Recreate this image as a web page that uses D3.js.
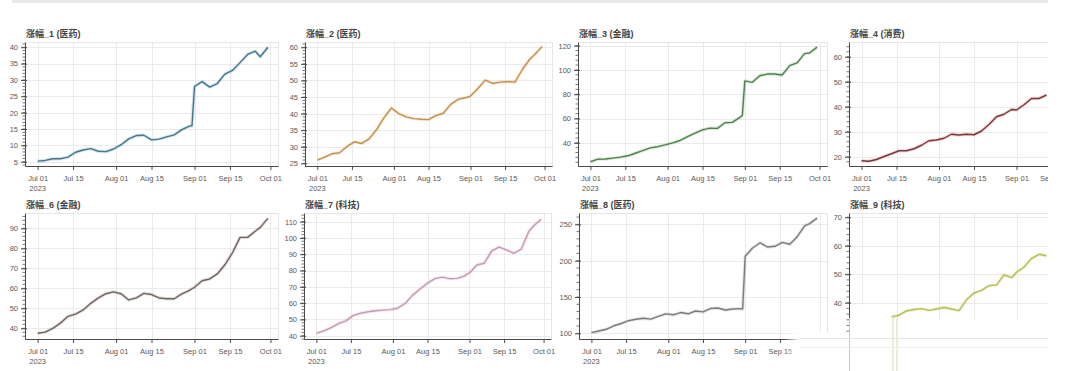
<!DOCTYPE html>
<html>
<head>
<meta charset="utf-8">
<script src="https://cdn.jsdelivr.net/npm/d3@7"></script>
<style>
	body { margin: 0; background: #fff; }
	svg { display: block; }
</style>
</head>
<body>
<div id="chart"></div>
<script>
	// sample dates (every ~3 days, plus the day before Sep 01 for the jumps)
	const dates = ["2023-07-01", "2023-07-04", "2023-07-07", "2023-07-10", "2023-07-13", "2023-07-16",
		"2023-07-19", "2023-07-22", "2023-07-25", "2023-07-28", "2023-07-31", "2023-08-03", "2023-08-06",
		"2023-08-09", "2023-08-12", "2023-08-15", "2023-08-18", "2023-08-21", "2023-08-24", "2023-08-27",
		"2023-08-30", "2023-08-31", "2023-09-01", "2023-09-04", "2023-09-07", "2023-09-10", "2023-09-13",
		"2023-09-16", "2023-09-19", "2023-09-22", "2023-09-25", "2023-09-27", "2023-09-30"];

	const titles = ["涨幅_1 (医药)", "涨幅_2 (医药)", "涨幅_3 (金融)", "涨幅_4 (消费)",
		"涨幅_6 (金融)", "涨幅_7 (科技)", "涨幅_8 (医药)", "涨幅_9 (科技)"];

	const s1 = [5.2, 5.4, 5.9, 5.9, 6.4, 7.9, 8.6, 9.0, 8.2, 8.1, 8.9, 10.2, 12.0, 13.0, 13.1, 11.7, 11.9,
		12.6, 13.2, 14.8, 15.9, 16.0, 28.0, 29.5, 27.8, 28.9, 31.8, 32.9, 35.3, 37.8, 38.8, 37.1, 40.0];
	const s2 = [26.0, 26.9, 27.9, 28.2, 30.1, 31.5, 31.0, 32.4, 35.2, 38.8, 41.7, 40.0, 39.0, 38.5, 38.3, 38.2,
		39.4, 40.1, 42.8, 44.3, 44.8, 45.0, 45.3, 47.6, 50.1, 49.1, 49.5, 49.6, 49.5, 53.3, 56.4, 57.8, 60.2];
	const s3 = [24.4, 26.5, 26.7, 27.4, 28.2, 29.3, 31.4, 33.5, 35.8, 36.8, 38.3, 40.0, 41.9, 45.0, 47.9, 50.6,
		52.1, 51.9, 56.5, 56.8, 60.9, 62.5, 91.0, 89.8, 95.2, 96.6, 96.6, 95.8, 103.5, 105.8, 113.4, 113.9, 118.8];
	// 涨幅_4 runs off the right edge of the picture after mid-September
	const s4 = [18.4, 18.2, 18.9, 20.1, 21.2, 22.4, 22.4, 23.2, 24.6, 26.4, 26.7, 27.4, 29.0, 28.7, 29.0, 28.8,
		30.3, 32.9, 36.0, 37.0, 38.9, 38.8, 38.7, 40.8, 43.3, 43.3, 44.7];
	const s6 = [37.5, 38.1, 40.0, 42.6, 46.0, 47.1, 49.2, 52.5, 55.2, 57.3, 58.2, 57.3, 54.2, 55.2, 57.5, 56.9,
		55.2, 54.8, 54.8, 57.2, 59.0, 59.8, 60.5, 63.8, 64.7, 67.2, 71.8, 77.8, 85.5, 85.5, 88.6, 90.5, 95.0];
	const s7 = [41.4, 43.0, 45.0, 47.5, 49.1, 52.5, 53.9, 54.7, 55.3, 55.7, 56.0, 57.0, 59.9, 64.9, 68.7, 72.3,
		75.0, 76.0, 75.0, 75.2, 76.6, 77.8, 78.5, 83.4, 84.5, 92.0, 94.4, 92.7, 90.6, 93.2, 104.0, 107.5, 111.4];
	const s8 = [100.9, 103.2, 105.6, 110.4, 113.5, 117.4, 119.3, 120.8, 119.5, 123.4, 126.8, 125.5, 128.6, 126.9,
		130.7, 129.6, 134.1, 134.8, 132.1, 133.5, 134.0, 133.5, 206.0, 217.5, 224.6, 218.8, 219.8, 225.2, 222.6,
		233.0, 248.0, 251.0, 258.5];
	// 涨幅_9: early July is hidden in the picture
	const s9 = [null, null, null, null, 35.0, 35.6, 37.1, 37.6, 37.9, 37.3, 37.8, 38.3, 37.8, 37.2, 41.0, 43.4,
		44.3, 46.0, 46.2, 49.8, 48.8, 49.7, 50.7, 52.5, 55.5, 57.0, 56.5];

	const xTicks = ["2023-07-01", "2023-07-15", "2023-08-01", "2023-08-15", "2023-09-01", "2023-09-15", "2023-10-01"];
	const xTickLabels = ["Jul 01", "Jul 15", "Aug 01", "Aug 15", "Sep 01", "Sep 15", "Oct 01"];
	const yTicks = [
		[5, 10, 15, 20, 25, 30, 35, 40],
		[25, 30, 35, 40, 45, 50, 55, 60],
		[40, 60, 80, 100, 120],
		[20, 30, 40, 50, 60],
		[40, 50, 60, 70, 80, 90],
		[40, 50, 60, 70, 80, 90, 100, 110],
		[100, 150, 200, 250],
		[40, 50, 60, 70]
	];

	// ---- layout ----
	var width = 1080, height = 371;
	const cutX = 1048; // screenshot ends here
	const series = [s1, s2, s3, s4, s6, s7, s8, s9];
	const frames = [
		{ l: 25, r: 278, t: 42, b: 166 }, { l: 305, r: 552, t: 42, b: 166 },
		{ l: 578, r: 827, t: 42, b: 166 }, { l: 849, r: 1099, t: 42, b: 166 },
		{ l: 25, r: 278, t: 213, b: 339 }, { l: 304, r: 551, t: 213, b: 339 },
		{ l: 579, r: 827, t: 213, b: 339 }, { l: 849, r: 1099, t: 213, b: 339 }
	];
	const yDomains = [[3.7, 41.6], [24.2, 61.6], [20.9, 123.0], [16.3, 65.9],
		[34.65, 97.7], [38.0, 115.3], [92.2, 265.6], [27.25, 71.5]];
	const lineColors = ["#45778c", "#bb9352", "#527f4d", "#74393f", "#6d6560", "#c29caf", "#7b7b7b", "#b6bd55"];
	const haloColors = ["#1f77b4", "#ff7f0e", "#2ca02c", "#d62728", "#8c564b", "#e377c2", "#7f7f7f", "#bcbd22"];
	const font = "'Liberation Sans', Arial, 'Noto Sans CJK SC', sans-serif";

	const parseDate = d3.timeParse("%Y-%m-%d");
	const xDomain = [parseDate("2023-06-26"), parseDate("2023-10-04")];
	const tickDates = xTicks.map(parseDate);
	const sampleDates = dates.map(parseDate);

	var svg = d3.select("#chart").append("svg")
		.attr("width", width).attr("height", height)
		.style("font-family", font);

	// thin grey bar along the top of the screenshot
	svg.append("rect").attr("x", 12).attr("y", 0).attr("width", cutX - 12).attr("height", 3).attr("fill", "#e9e9e9");

	frames.forEach((f, i) => {
		const x = d3.scaleTime().domain(xDomain).range([f.l, f.r]);
		const y = d3.scaleLinear().domain(yDomains[i]).range([f.b, f.t]);
		const g = svg.append("g");
		// only ticks whose label still starts inside the picture
		const shownTicks = tickDates.filter(d => x(d) - 10 < cutX);

		// grid
		g.selectAll(".hgrid").data(yTicks[i]).join("line")
			.attr("x1", f.l).attr("x2", f.r)
			.attr("y1", d => Math.round(y(d)) + 0.5).attr("y2", d => Math.round(y(d)) + 0.5)
			.attr("stroke", "#ebebeb");
		g.selectAll(".vgrid").data(shownTicks).join("line")
			.attr("x1", d => Math.round(x(d)) + 0.5).attr("x2", d => Math.round(x(d)) + 0.5)
			.attr("y1", f.t).attr("y2", f.b)
			.attr("stroke", "#ebebeb");
		g.append("rect")
			.attr("x", f.l + 0.5).attr("y", f.t + 0.5)
			.attr("width", f.r - f.l).attr("height", f.b - f.t)
			.attr("fill", "none").attr("stroke", "#e6e6e6");

		// series line: soft coloured halo + darker core
		const pts = series[i].map((v, k) => ({ date: sampleDates[k], v: v }));
		const line = d3.line()
			.defined(d => d.v != null)
			.x(d => x(d.date))
			.y(d => y(d.v));
		g.append("path").datum(pts).attr("d", line)
			.attr("fill", "none").attr("stroke", haloColors[i]).attr("stroke-opacity", 0.18)
			.attr("stroke-width", 3.4).attr("stroke-linejoin", "round");
		g.append("path").datum(pts).attr("d", line)
			.attr("fill", "none").attr("stroke", lineColors[i])
			.attr("stroke-width", 1.4).attr("stroke-linejoin", "round");

		// minor y ticks (5 per major interval)
		const minorStep = (yTicks[i][1] - yTicks[i][0]) / 5;
		const minors = [];
		for (let k = Math.ceil(yDomains[i][0] / minorStep); k * minorStep <= yDomains[i][1]; k++) minors.push(k * minorStep);
		g.selectAll(".minor").data(minors).join("line")
			.attr("x1", f.l - 2.5).attr("x2", f.l)
			.attr("y1", d => y(d)).attr("y2", d => y(d))
			.attr("stroke", "#555").attr("stroke-width", 0.8);

		// axes
		const yAxis = g.append("g").attr("transform", `translate(${f.l},0)`)
			.call(d3.axisLeft(y).tickValues(yTicks[i]).tickSizeInner(4).tickSizeOuter(0).tickPadding(3));
		const xAxis = g.append("g").attr("transform", `translate(0,${f.b})`)
			.call(d3.axisBottom(x).tickValues(shownTicks).tickFormat(d => xTickLabels[tickDates.indexOf(d)])
				.tickSizeInner(4).tickSizeOuter(0).tickPadding(6));
		[yAxis, xAxis].forEach(a => {
			a.attr("font-family", font).attr("font-size", null);
			a.select(".domain").attr("stroke", "#4a4a4a");
			a.selectAll(".tick line").attr("stroke", "#4a4a4a");
			a.selectAll(".tick text").attr("fill", "#595959").style("font-size", "7.5px");
		});
		yAxis.selectAll(".tick line").attr("x2", -4).attr("x1", 2);

		g.append("text")
			.attr("x", x(tickDates[0])).attr("y", f.b + 25)
			.attr("text-anchor", "middle").attr("fill", "#595959").style("font-size", "7.5px")
			.text("2023");

		// title
		g.append("text")
			.attr("x", f.l + 1).attr("y", f.t - 5)
			.attr("fill", "#444").attr("font-weight", "bold").style("font-size", "9px")
			.style("font-family", "'Liberation Sans', 'Noto Sans CJK SC', sans-serif")
			.text(titles[i]);
	});

	// ---- the screenshot's smudged lower-right corner ----
	const defs = svg.append("defs");
	const fade = defs.append("linearGradient").attr("id", "fade")
		.attr("gradientUnits", "userSpaceOnUse").attr("x1", 784).attr("x2", 800).attr("y1", 0).attr("y2", 0);
	fade.append("stop").attr("offset", 0).attr("stop-color", "#fff").attr("stop-opacity", 0);
	fade.append("stop").attr("offset", 1).attr("stop-color", "#fff").attr("stop-opacity", 1);
	svg.append("rect").attr("x", 784).attr("y", 333).attr("width", 296).attr("height", 38).attr("fill", "url(#fade)");
	svg.append("rect").attr("x", 851).attr("y", 320).attr("width", 229).attr("height", 51).attr("fill", "#fff");
	svg.append("rect").attr("x", 851).attr("y", 305).attr("width", 39).attr("height", 20).attr("fill", "#fff");
	svg.append("line").attr("x1", 849.5).attr("x2", 849.5).attr("y1", 318).attr("y2", 371)
		.attr("stroke", "#c9c9c9");
	[893, 897].forEach(sx => svg.append("line").attr("x1", sx).attr("x2", sx).attr("y1", 318).attr("y2", 371)
		.attr("stroke", "#e4e7c3").attr("stroke-width", 1.5));
	svg.append("line").attr("x1", 800).attr("x2", cutX).attr("y1", 338.5).attr("y2", 338.5).attr("stroke", "#e6e6e6");
	svg.append("line").attr("x1", 800).attr("x2", cutX).attr("y1", 347.5).attr("y2", 347.5).attr("stroke", "#f0f0f0");

	// picture is cut off on the right
	svg.append("rect").attr("x", cutX).attr("y", 0).attr("width", width - cutX).attr("height", height).attr("fill", "#fff");
</script>
</body>
</html>
